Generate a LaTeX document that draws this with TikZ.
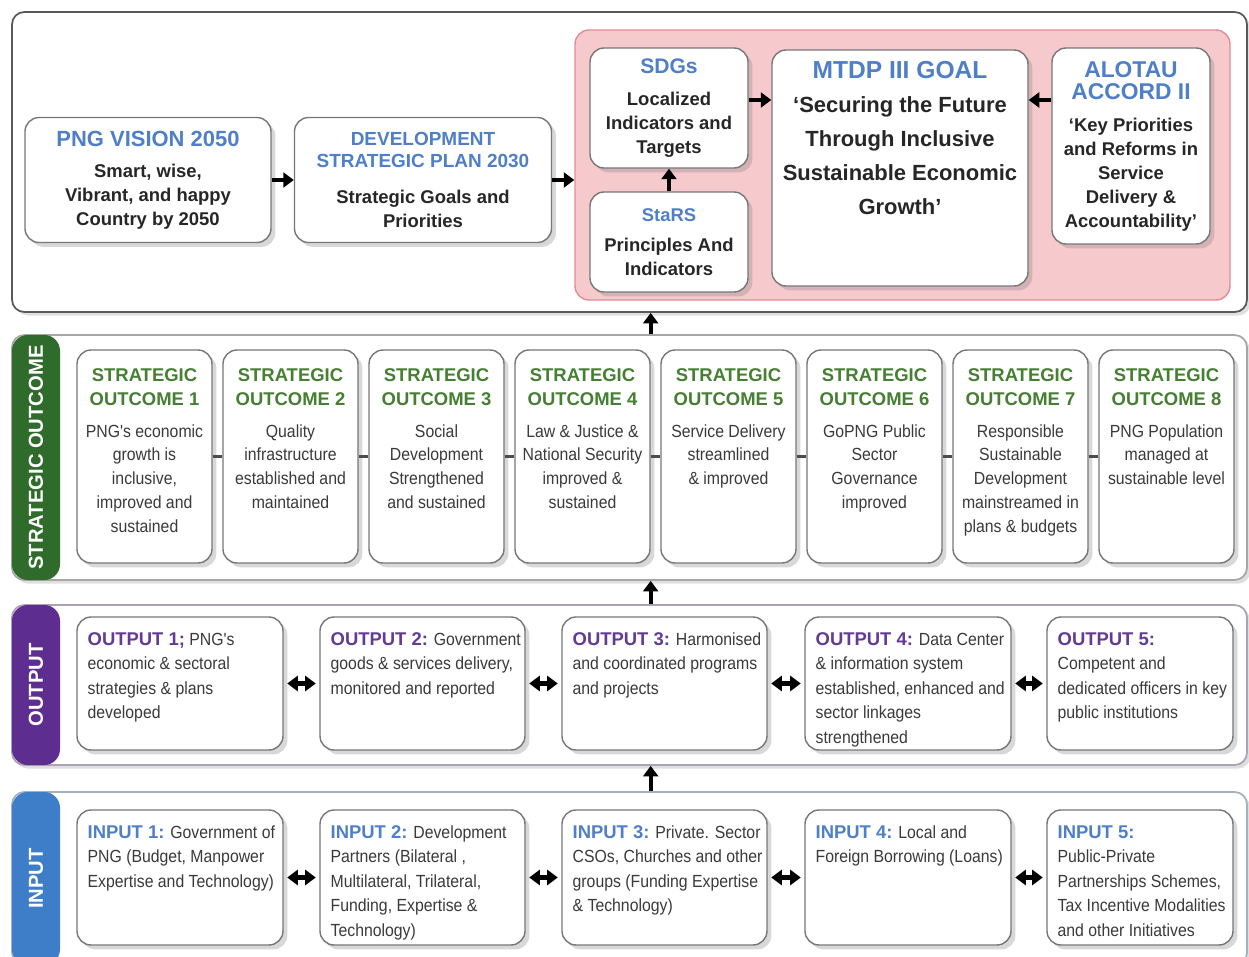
\documentclass[tikz,border=0pt]{standalone}
\usepackage{fontspec}
\setmainfont{Liberation Sans}
\newfontfamily\narrowfont[FakeStretch=0.9]{Liberation Sans}
\usetikzlibrary{arrows.meta,positioning,shadows}
\definecolor{hdblue}{HTML}{4F7FC8}
\definecolor{hdgreen}{HTML}{457F31}
\definecolor{hdpurple}{HTML}{633A94}
\definecolor{bargreen}{HTML}{2F6B2B}
\definecolor{barpurple}{HTML}{5E2D90}
\definecolor{barblue}{HTML}{3E7DC8}
\definecolor{pinkfill}{HTML}{F6C9CD}
\definecolor{pinkline}{HTML}{E28C93}
\definecolor{boxgrey}{HTML}{777777}
\definecolor{txtgrey}{HTML}{3A3A3A}
\newcommand{\pxw}{0.02cm}
\newcommand{\sohead}[1]{{\normalfont\bfseries\fontsize{10.5}{13.6}\selectfont\color{hdgreen}#1}}
\newcommand{\outhead}[1]{{\normalfont\bfseries\fontsize{10.5}{13.9}\selectfont\color{hdpurple}#1}}
\newcommand{\inhead}[1]{{\normalfont\bfseries\fontsize{10.5}{13.9}\selectfont\color{hdblue}#1}}

\begin{document}
\begin{tikzpicture}[
  x=0.02cm, y=-0.02cm,
  font=\bfseries,
  panel/.style={draw=#1, line width=1pt, rounded corners=7pt, fill=white,
                inner sep=0pt, minimum width=1235*\pxw,
                drop shadow={shadow xshift=2pt, shadow yshift=-2pt, opacity=0.25}},
  sidebar/.style={fill=#1, rounded corners=9pt, rotate=90, text=white,
                  inner sep=0pt, minimum height=48*\pxw,
                  font=\fontsize{11.5}{12}\selectfont\bfseries},
  box/.style={draw=boxgrey, line width=0.8pt, rounded corners=8pt, fill=white,
              inner sep=0pt,
              drop shadow={shadow xshift=2.5pt, shadow yshift=-2.5pt, opacity=0.3}},
  topbox/.style={box, align=center, text=black!85,
                 font=\fontsize{10.5}{13.6}\selectfont\bfseries},
  sotext/.style={anchor=north, align=center, inner sep=0pt, text=txtgrey,
                 font=\narrowfont\fontsize{10}{13.6}\selectfont},
  iotext/.style={anchor=north west, align=left, inner sep=0pt, text=txtgrey,
                 font=\narrowfont\fontsize{10}{13.9}\selectfont},
  arr/.style={line width=2.4pt, -{Triangle[length=6pt, width=8.5pt]}},
  darr/.style={line width=2.4pt,
               {Triangle[length=6pt, width=8.5pt]}-{Triangle[length=6pt, width=8.5pt]},
               shorten <=2pt, shorten >=2pt}]

\clip (0,0) rectangle (1249,957);

% ---------------- Top panel: vision, plans and goal ----------------
\node[panel=black!65, minimum height=300*\pxw] (toppanel) at (629.5,162) {};
\node[draw=pinkline, fill=pinkfill, line width=0.8pt, rounded corners=8pt,
      inner sep=0pt, minimum width=655*\pxw, minimum height=270*\pxw]
  (pink) at (902.5,165) {};

\node[topbox, minimum width=246*\pxw, minimum height=125*\pxw] (vision) at (148,180)
  {\textcolor{hdblue}{\fontsize{12.5}{15}\selectfont PNG VISION 2050}\\[4pt]
   Smart, wise,\\ Vibrant, and happy\\ Country by 2050};
\node[topbox, minimum width=257*\pxw, minimum height=125*\pxw] (dsp) at (423,180)
  {\textcolor{hdblue}{\fontsize{10.8}{12.5}\selectfont DEVELOPMENT}\\[-1pt]
   \textcolor{hdblue}{\fontsize{10.8}{12.5}\selectfont STRATEGIC PLAN 2030}\\[7pt]
   Strategic Goals and\\ Priorities};
\node[topbox, minimum width=158*\pxw, minimum height=120*\pxw] (sdg) at (669,108)
  {\textcolor{hdblue}{\fontsize{12}{14}\selectfont SDGs}\\[4.4pt]
   Localized\\ Indicators and\\ Targets};
\node[topbox, minimum width=158*\pxw, minimum height=100*\pxw] (stars) at (669,242)
  {\textcolor{hdblue}{\fontsize{10.5}{13}\selectfont StaRS}\\[3.4pt]
   Principles And\\ Indicators};
\node[box, minimum width=256*\pxw, minimum height=236*\pxw] (mtdp) at (900,168) {};
\node[anchor=north, align=center, inner sep=0pt, text=black!85,
      font=\fontsize{12.5}{19.3}\selectfont\bfseries]
  (mtdpt) at ([yshift=-12*\pxw]mtdp.north)
  {\textcolor{hdblue}{\fontsize{14}{16}\selectfont MTDP III GOAL}\\
   `Securing the Future\\ Through Inclusive\\ Sustainable Economic\\ Growth'};
\node[topbox, minimum width=158*\pxw, minimum height=196*\pxw] (alo) at (1131,146)
  {\textcolor{hdblue}{\fontsize{13}{14}\selectfont ALOTAU}\\[-0.6pt]
   \textcolor{hdblue}{\fontsize{13}{14}\selectfont ACCORD II}\\[4.4pt]
   `Key Priorities\\ and Reforms in\\ Service\\ Delivery \&\\ Accountability'};

\draw[arr] (vision) -- (dsp);
\draw[arr] (dsp) -- (dsp -| pink.west);
\draw[arr] (stars) -- (sdg);
\draw[arr] ([yshift=8*\pxw]sdg.east) -- ([yshift=8*\pxw]sdg.east -| mtdp.west);
\draw[arr] ([yshift=46*\pxw]alo.west) -- ([yshift=46*\pxw]alo.west -| mtdp.east);

% ---------------- Strategic outcomes ----------------
\node[panel=black!35, minimum height=245*\pxw] (sopanel) at (629.5,457.5) {};
\node[sidebar=bargreen, minimum width=245*\pxw] (sobar) at (36,457.5) {STRATEGIC OUTCOME};
\foreach \i/\body in {
  1/{PNG's economic\\growth is\\inclusive,\\improved and\\sustained},
  2/{Quality\\infrastructure\\established and\\maintained},
  3/{Social\\Development\\Strengthened\\and sustained},
  4/{Law \& Justice \&\\National Security\\improved \&\\sustained},
  5/{Service Delivery\\streamlined\\\& improved},
  6/{GoPNG Public\\Sector\\Governance\\improved},
  7/{Responsible\\Sustainable\\Development\\mainstreamed in\\plans \& budgets},
  8/{PNG Population\\managed at\\sustainable level}}{
  \node[box, minimum width=135*\pxw, minimum height=213*\pxw]
    (so\i) at ({144.5+146*(\i-1)},456.5) {};
  \node[sotext] (so\i t) at ([yshift=-19*\pxw]so\i.north)
    {\sohead{STRATEGIC}\\\sohead{OUTCOME \i}\\[4.4pt]\body};
}
\foreach \i [evaluate=\i as \j using int(\i+1)] in {1,...,7}{
  \draw[line width=1.6pt, black!70] (so\i) -- (so\j);}
\draw[arr] (sopanel.north -| so4.east) -- (toppanel.south -| so4.east);

% ---------------- Outputs ----------------
\node[panel=hdpurple!45!black!40, minimum height=160*\pxw] (outpanel) at (629.5,685) {};
\node[sidebar=barpurple, minimum width=160*\pxw] (outbar) at (36,685) {OUTPUT};
\foreach \i/\cx/\w/\body in {
  1/180/206/{\outhead{OUTPUT 1;} PNG's\\economic \& sectoral\\strategies \& plans\\developed},
  2/422.5/205/{\outhead{OUTPUT 2:} Government\\goods \& services delivery,\\monitored and reported},
  3/664.5/205/{\outhead{OUTPUT 3:} Harmonised\\and coordinated programs\\and projects},
  4/908/206/{\outhead{OUTPUT 4:} Data Center\\\& information system\\established, enhanced and\\sector linkages\\strengthened},
  5/1140/186/{\outhead{OUTPUT 5:}\\Competent and\\dedicated officers in key\\public institutions}}{
  \node[box, minimum width=\w*\pxw, minimum height=133*\pxw] (out\i) at (\cx,683.5) {};
  \node[iotext] (out\i t) at ([xshift=11*\pxw, yshift=-16*\pxw]out\i.north west) {\body};
}
\foreach \i [evaluate=\i as \j using int(\i+1)] in {1,...,4}{
  \draw[darr] (out\i) -- (out\j);}
\draw[arr] (outpanel.north -| so4.east) -- (sopanel.south -| so4.east);

% ---------------- Inputs ----------------
\node[panel=hdblue!45!black!40, minimum height=173*\pxw] (inpanel) at (629.5,878.5) {};
\node[sidebar=barblue, minimum width=173*\pxw] (inbar) at (36,878.5) {INPUT};
\foreach \i/\cx/\w/\body in {
  1/180/206/{\inhead{INPUT 1:} Government of\\PNG (Budget, Manpower\\Expertise and Technology)},
  2/422.5/205/{\inhead{INPUT 2:} Development\\Partners (Bilateral ,\\Multilateral, Trilateral,\\Funding, Expertise \&\\Technology)},
  3/664.5/205/{\inhead{INPUT 3:} Private. Sector\\CSOs, Churches and other\\groups (Funding Expertise\\\& Technology)},
  4/908/206/{\inhead{INPUT 4:} Local and\\Foreign Borrowing (Loans)},
  5/1140/186/{\inhead{INPUT 5:}\\Public-Private\\Partnerships Schemes,\\Tax Incentive Modalities\\and other Initiatives}}{
  \node[box, minimum width=\w*\pxw, minimum height=135*\pxw] (in\i) at (\cx,877.5) {};
  \node[iotext] (in\i t) at ([xshift=11*\pxw, yshift=-16*\pxw]in\i.north west) {\body};
}
\foreach \i [evaluate=\i as \j using int(\i+1)] in {1,...,4}{
  \draw[darr] (in\i) -- (in\j);}
\draw[arr] (inpanel.north -| so4.east) -- (outpanel.south -| so4.east);
\end{tikzpicture}
\end{document}
